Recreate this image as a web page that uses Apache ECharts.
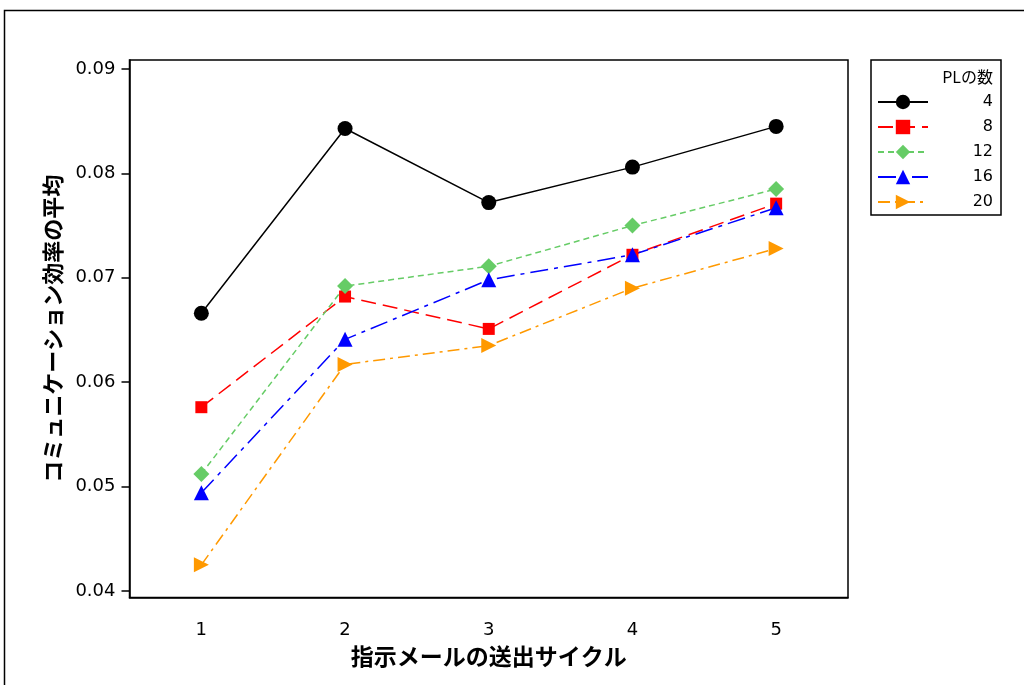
<!DOCTYPE html>
<html>
<head>
<meta charset="utf-8">
<script src="https://cdn.jsdelivr.net/npm/echarts@6/dist/echarts.min.js"></script>
<style>html,body{margin:0;padding:0;background:#fff}#c{width:1024px;height:685px}</style>
</head>
<body>
<div id="c"></div>
<script>
var categories = ['1', '2', '3', '4', '5'];
var yTicks = [0.04, 0.05, 0.06, 0.07, 0.08, 0.09];
var seriesNames = ['4', '8', '12', '16', '20'];
var pl4  = [0.0666, 0.0843, 0.0772, 0.0806, 0.0845];
var pl8  = [0.0576, 0.0682, 0.0651, 0.0722, 0.0771];
var pl12 = [0.0512, 0.0692, 0.0711, 0.0750, 0.0785];
var pl16 = [0.0494, 0.0641, 0.0698, 0.0722, 0.0767];
var pl20 = [0.0425, 0.0617, 0.0635, 0.0690, 0.0728];

var chart = echarts.init(document.getElementById('c'), null, {renderer: 'canvas'});
var font = '"Noto Sans CJK JP", "Liberation Sans", sans-serif';
var numFont = '"DejaVu Sans", "Liberation Sans", sans-serif';

function mk(name, data, color, symbol, size, dash, rot) {
  return {
    name: name, type: 'line', data: data,
    symbol: symbol, symbolSize: size, symbolRotate: rot || 0,
    itemStyle: {color: color},
    lineStyle: {color: color, width: 1.5, type: dash},
    z: 10
  };
}

chart.setOption({
  animation: false,
  backgroundColor: '#fff',
  graphic: [{
    type: 'rect', shape: {x: 4.5, y: 10.5, width: 1100, height: 800},
    style: {fill: 'none', stroke: '#000', lineWidth: 1.5}, silent: true
  }],
  title: {
    text: 'PLの数', right: 26, top: 64,
    textStyle: {fontSize: 16, fontWeight: 'normal', color: '#000', fontFamily: font}
  },
  grid: {left: 129.5, top: 60, right: 176, bottom: 87.5, show: true, borderColor: '#000', borderWidth: 1.5, containLabel: false},
  legend: {
    left: 871, top: 60, orient: 'vertical',
    borderColor: '#000', borderWidth: 1.5,
    padding: [34, 8, 5, 6],
    itemWidth: 50, itemHeight: 18, itemGap: 9,
    data: seriesNames,
    formatter: function (n) { return '{a|' + n + '}'; },
    textStyle: {fontSize: 16, color: '#000', fontFamily: numFont,
      rich: {a: {width: 60, align: 'right', fontSize: 16, fontFamily: numFont}}}
  },
  xAxis: {
    type: 'category', data: categories, boundaryGap: true,
    name: '指示メールの送出サイクル', nameLocation: 'middle', nameGap: 46,
    nameTextStyle: {fontSize: 23, fontWeight: 'bold', color: '#000', fontFamily: font},
    axisLine: {lineStyle: {color: '#000', width: 1.5}},
    axisTick: {alignWithLabel: true, length: 8, lineStyle: {color: '#000', width: 1.5}},
    axisLabel: {fontSize: 18, color: '#000', margin: 24, fontFamily: numFont},
    splitLine: {show: false}
  },
  yAxis: {
    type: 'value', min: 0.03937, max: 0.09086,
    name: 'コミュニケーション効率の平均', nameLocation: 'middle', nameGap: 66,
    nameTextStyle: {fontSize: 22, fontWeight: 'bold', color: '#000', fontFamily: font},
    axisLine: {show: true, lineStyle: {color: '#000', width: 1.5}},
    axisTick: {show: true, length: 8, customValues: yTicks, lineStyle: {color: '#000', width: 1.5}},
    axisLabel: {fontSize: 18, color: '#000', margin: 14, fontFamily: numFont, customValues: yTicks,
      formatter: function (v) { return v.toFixed(2); }},
    splitLine: {show: false}
  },
  series: [
    mk('4', pl4, '#000000', 'circle', 15, 'solid'),
    mk('8', pl8, '#ff0000', 'rect', 12, [15, 7]),
    mk('12', pl12, '#66cc66', 'diamond', 16, [6, 4]),
    mk('16', pl16, '#0000ff', 'triangle', 15, [18, 6, 4, 6]),
    mk('20', pl20, '#ff9900', 'triangle', 15, [12, 5, 3, 5], -90)
  ]
});
</script>
</body>
</html>
